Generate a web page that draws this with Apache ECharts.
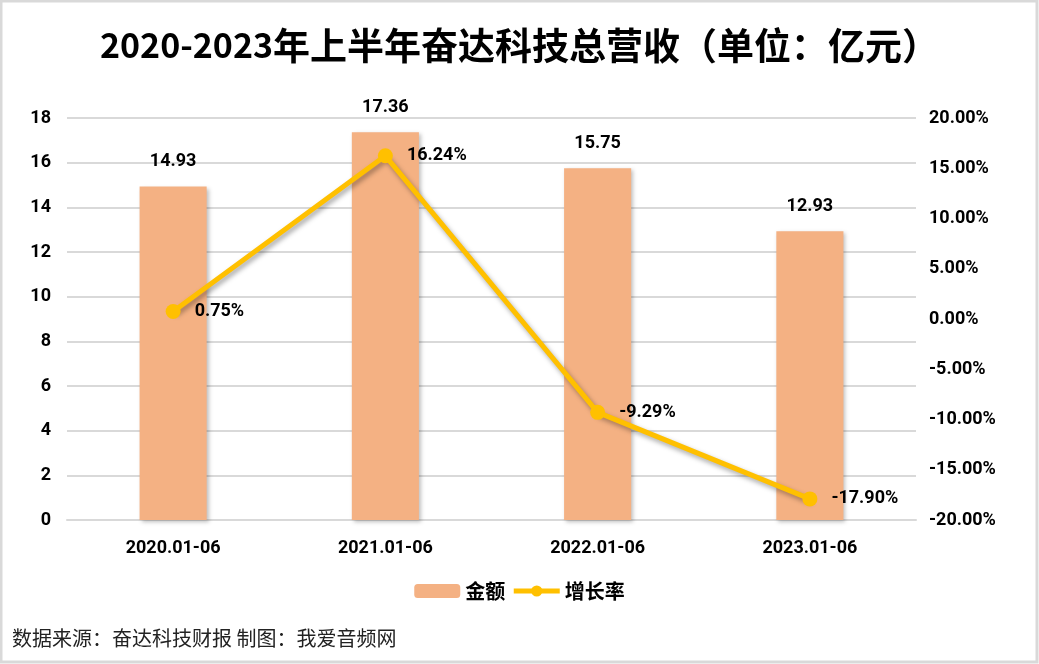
<!DOCTYPE html>
<html>
<head>
<meta charset="utf-8">
<script src="https://cdn.jsdelivr.net/npm/echarts@6/dist/echarts.min.js"></script>
<style>
html,body{margin:0;padding:0;background:#fff;}
#main{width:1039px;height:664px;}
</style>
</head>
<body>
<div id="main"></div>
<script>
var periods = ['2020.01-06', '2021.01-06', '2022.01-06', '2023.01-06'];
var revenue = [14.93, 17.36, 15.75, 12.93];
var growth = [0.75, 16.24, -9.29, -17.90];

var fontCn = '"Noto Sans CJK SC", "Noto Sans", sans-serif';
var fontNum = 'Roboto, sans-serif';
var myChart = echarts.init(document.getElementById('main'));
var option = {
    backgroundColor: '#fff',
    animation: false,
    title: {
        text: '{a|2020-2023}{b|年上半年奋达科技总营收（单位：亿元）}',
        left: 'center',
        top: 22,
        textStyle: {
            rich: {
                a: {fontFamily: fontCn, fontWeight: 'bold', fontSize: 34, color: '#000'},
                b: {fontFamily: fontCn, fontWeight: 'bold', fontSize: 37, color: '#000'}
            }
        }
    },
    legend: {
        bottom: 58,
        left: 'center',
        itemWidth: 46,
        itemHeight: 14,
        itemGap: 6,
        textStyle: {fontFamily: fontCn, fontSize: 20, fontWeight: 'bold', color: '#000'},
        data: [
            {name: '金额'},
            {name: '增长率', lineStyle: {width: 5}}
        ]
    },
    grid: {left: 67, right: 123, top: 118, bottom: 144, containLabel: false},
    xAxis: {
        type: 'category',
        data: periods,
        axisLine: {lineStyle: {color: '#d9d9d9', width: 2}},
        axisTick: {show: false},
        axisLabel: {margin: 19, fontFamily: fontNum, fontWeight: 'bold', fontSize: 18, color: '#000'}
    },
    yAxis: [{
        type: 'value',
        min: 0,
        max: 18,
        interval: 2,
        axisLine: {show: false},
        axisTick: {show: false},
        splitLine: {lineStyle: {color: '#d9d9d9', width: 2}},
        axisLabel: {margin: 16, fontFamily: fontNum, fontWeight: 'bold', fontSize: 18, color: '#000'}
    }, {
        type: 'value',
        min: -20,
        max: 20,
        interval: 5,
        axisLine: {show: false},
        axisTick: {show: false},
        splitLine: {show: false},
        axisLabel: {
            margin: 13,
            fontFamily: fontNum, fontWeight: 'bold', fontSize: 18, color: '#000',
            formatter: function (v) { return v.toFixed(2) + '%'; }
        }
    }],
    series: [{
        name: '金额',
        type: 'bar',
        data: revenue,
        barWidth: '31.6%',
        itemStyle: {
            color: '#F4B183',
            shadowBlur: 4,
            shadowOffsetX: 2,
            shadowOffsetY: 2,
            shadowColor: 'rgba(0,0,0,0.25)'
        },
        label: {
            show: true,
            position: 'top',
            distance: 16,
            fontFamily: fontNum,
            fontWeight: 'bold',
            fontSize: 18,
            color: '#000',
            formatter: function (p) { return p.value.toFixed(2); }
        }
    }, {
        name: '增长率',
        type: 'line',
        yAxisIndex: 1,
        data: growth,
        symbol: 'circle',
        symbolSize: 15,
        lineStyle: {
            color: '#FFC000',
            width: 5,
            shadowBlur: 5,
            shadowOffsetX: 2,
            shadowOffsetY: 3,
            shadowColor: 'rgba(0,0,0,0.35)'
        },
        itemStyle: {color: '#FFC000'},
        label: {
            show: true,
            position: 'right',
            distance: 14,
            fontFamily: fontNum,
            fontWeight: 'bold',
            fontSize: 18,
            color: '#000',
            formatter: function (p) { return p.value.toFixed(2) + '%'; }
        },
        z: 3
    }],
    graphic: [{
        type: 'rect',
        shape: {x: 1, y: 1, width: 1036, height: 661},
        style: {fill: 'none', stroke: '#d9d9d9', lineWidth: 3},
        silent: true
    }, {
        type: 'text',
        left: 12,
        top: 628,
        style: {
            text: '数据来源：奋达科技财报 制图：我爱音频网',
            font: '20px "Noto Sans CJK SC", sans-serif',
            fill: '#222'
        }
    }]
};
myChart.setOption(option);
</script>
</body>
</html>
